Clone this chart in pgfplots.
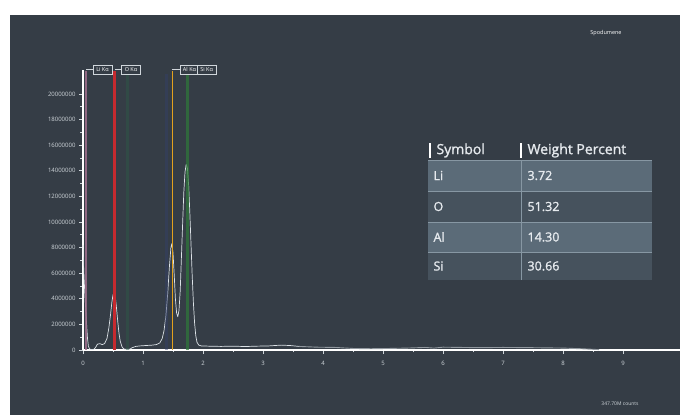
\documentclass[border=0pt]{standalone}
\usepackage{pgfplots}
\pgfplotsset{compat=1.18}
\usepackage{fontspec}
\setmainfont{Open Sans}
\newfontfamily\semib{Open Sans}[FakeBold=1.3]

\definecolor{bg}{HTML}{353D46}
\definecolor{rowA}{HTML}{5B6B78}
\definecolor{rowB}{HTML}{46525D}
\definecolor{rowsep}{HTML}{8797A3}
\definecolor{spec}{HTML}{DCE2E7}
\definecolor{liline}{HTML}{A0708E}
\definecolor{oline}{HTML}{C62A2F}
\definecolor{alline}{HTML}{E3A21E}
\definecolor{siline}{HTML}{2F7A3A}
\definecolor{fgreen}{HTML}{2E5A48}
\definecolor{fblue}{HTML}{34406A}
\definecolor{tickc}{HTML}{D0D6DB}
\definecolor{tabtext}{HTML}{E6EAEE}

\begin{document}
\begin{tikzpicture}[x=1pt,y=1pt]
\useasboundingbox (0,0) rectangle (680,415);
\fill[white] (0,0) rectangle (680,415);
\fill[bg] (10,0) rectangle (680,400);

\begin{axis}[
  at={(83pt,65pt)}, anchor=origin,
  x=60pt, y=12.8pt,
  xmin=0, xmax=9.95, ymin=0, ymax=21.9,
  axis x line=bottom, axis y line=left,
  axis line style={-, draw=white, line width=1.1pt},
  xtick={0,1,...,9}, minor x tick num=1,
  ytick={0,2,...,20}, minor y tick num=1,
  yticklabels={0,2000000,4000000,6000000,8000000,10000000,12000000,14000000,16000000,18000000,20000000},
  tick align=outside,
  major tick length=4pt, minor tick length=2.5pt,
  tick style={draw=tickc, line width=0.6pt},
  ticklabel style={font=\fontsize{6}{6}\selectfont, text=tickc},
  xticklabel style={yshift=-4pt},
  /pgf/number format/assume math mode=true,
  clip=false,
]
% spectrum, counts in millions
\addplot[spec, line width=0.7pt, line join=round] coordinates {
 (0.000,8.2) (0.005,7.6) (0.012,6.2) (0.02,5.4) (0.03,4.5) (0.045,3.2)
 (0.06,2.0) (0.075,0.9) (0.09,0.3) (0.11,0.08) (0.14,0.03) (0.18,0.05)
 (0.21,0.2) (0.24,0.45) (0.28,0.5) (0.32,0.42) (0.36,0.5) (0.40,0.9)
 (0.43,1.7) (0.46,2.8) (0.48,3.7) (0.50,4.3) (0.52,4.5) (0.54,4.1)
 (0.56,3.2) (0.58,2.2) (0.60,1.3) (0.62,0.7) (0.65,0.25) (0.68,0.08)
 (0.72,0.05) (0.78,0.06) (0.82,0.18) (0.88,0.28) (0.95,0.32) (1.05,0.35)
 (1.15,0.38) (1.22,0.42) (1.28,0.55) (1.32,0.9) (1.35,1.5) (1.38,2.6)
 (1.41,4.3) (1.44,6.5) (1.465,8.0) (1.48,8.3) (1.50,7.6) (1.52,5.9)
 (1.54,4.0) (1.56,2.9) (1.58,2.6) (1.60,3.1) (1.62,4.6) (1.64,7.2)
 (1.66,9.8) (1.68,12.3) (1.70,13.9) (1.72,14.5) (1.74,14.2) (1.76,12.9)
 (1.78,10.8) (1.80,8.3) (1.82,5.8) (1.84,3.7) (1.86,2.1) (1.88,1.1)
 (1.90,0.6) (1.93,0.38) (1.97,0.32) (2.1,0.3) (2.3,0.28) (2.5,0.3)
 (2.7,0.27) (2.9,0.3) (3.1,0.32) (3.3,0.38) (3.45,0.35) (3.6,0.28)
};
\addplot[spec!55!bg, line width=0.9pt] coordinates {
 (3.6,0.28) (3.9,0.22) (4.2,0.2) (4.5,0.12) (4.8,0.1) (5.1,0.12)
 (5.4,0.15) (5.7,0.2) (5.85,0.15) (6.0,0.22) (6.3,0.2) (6.6,0.18)
 (7.0,0.2) (7.5,0.18) (8.0,0.15) (8.3,0.1) (8.6,0.03)
};
% element line markers
\addplot[fgreen, line width=2.5pt, opacity=0.45] coordinates {(0.74,0) (0.74,21.6)};
\addplot[fblue, line width=2.5pt, opacity=0.45] coordinates {(1.39,0) (1.39,21.6)};
\addplot[liline, line width=1.1pt, opacity=0.85] coordinates {(0.05,0) (0.05,21.8)};
\addplot[oline, line width=2.2pt] coordinates {(0.525,0) (0.525,21.8)};
\addplot[alline, line width=1.8pt] coordinates {(1.49,0) (1.49,21.8)};
\addplot[siline, line width=3.2pt, opacity=0.7] coordinates {(1.745,0) (1.745,21.6)};

% line captions
\draw[tickc, line width=0.4pt] (axis cs:0.05,21.9) -- (axis cs:0.17,21.9);
\draw[tickc, line width=0.4pt] (axis cs:0.525,21.9) -- (axis cs:0.63,21.9);
\draw[tickc, line width=0.4pt] (axis cs:1.49,21.9) -- (axis cs:1.62,21.9);
\tikzset{lbox/.style={draw=tickc, line width=0.4pt, fill=bg, text=white,
  font=\fontsize{5.5}{6}\selectfont, inner sep=1pt, minimum width=19pt, minimum height=9.5pt}}
\node[lbox] at (axis cs:0.325,21.9) {Li Kα};
\node[lbox] at (axis cs:0.80,21.9) {O Kα};
\node[lbox] at (axis cs:1.775,21.9) {Al Kα};
\node[lbox] at (axis cs:2.06,21.9) {Si Kα};
\end{axis}

% weight percent table
\fill[rowA] (428,224) rectangle (652,255);
\fill[rowB] (428,193) rectangle (652,224);
\fill[rowA] (428,163) rectangle (652,193);
\fill[rowB] (428,135) rectangle (652,163);
\draw[rowsep, line width=0.8pt] (428,255) -- (652,255);
\draw[rowsep, line width=0.8pt] (428,224) -- (652,224);
\draw[rowsep, line width=0.8pt] (428,193) -- (652,193);
\draw[rowsep, line width=0.8pt] (428,163) -- (652,163);
\draw[rowsep, line width=1pt] (521,135) -- (521,255);
\draw[white, line width=1.3pt] (430,257) -- (430,272);
\draw[white, line width=1.3pt] (521,257) -- (521,272);
\node[anchor=west, text=tabtext, font=\semib\fontsize{14}{14}\selectfont] at (433,264.5) {Symbol};
\node[anchor=west, text=tabtext, font=\semib\fontsize{14}{14}\selectfont] at (524,264.5) {Weight Percent};
\tikzset{cell/.style={anchor=west, text=tabtext, font=\semib\fontsize{12.5}{13}\selectfont}}
\node[cell] at (430,239.5) {Li};  \node[cell] at (524,239.5) {3.72};
\node[cell] at (430,208.5) {O};   \node[cell] at (524,208.5) {51.32};
\node[cell] at (430,178)   {Al};  \node[cell] at (524,178)   {14.30};
\node[cell] at (430,149)   {Si};  \node[cell] at (524,149)   {30.66};

\node[text=white, font=\fontsize{5.5}{6}\selectfont] at (606,382) {Spodumene};
\node[text=tickc, font=\fontsize{5}{5}\selectfont] at (620,11) {347.70M counts};
\end{tikzpicture}
\end{document}
